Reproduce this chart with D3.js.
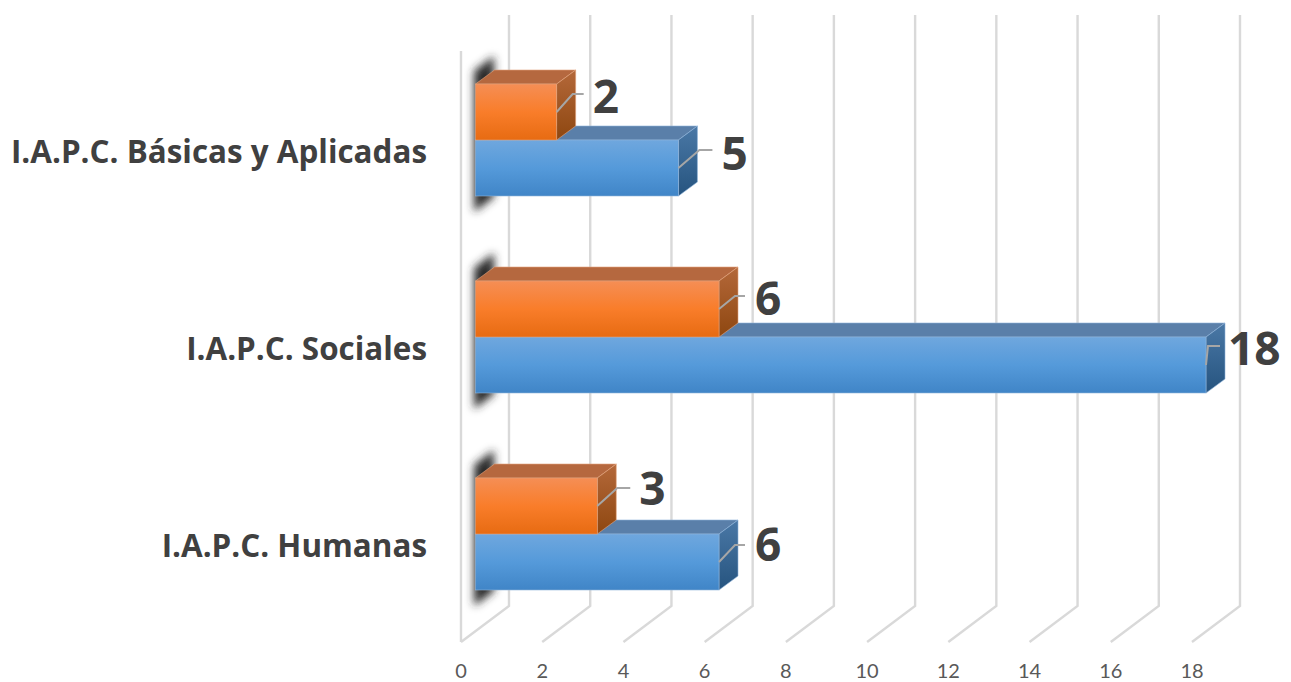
<!DOCTYPE html>
<html><head><meta charset="utf-8">
<style>html,body{margin:0;padding:0;background:#fff;overflow:hidden}svg{display:block}</style>
<script src="https://d3js.org/d3.v7.min.js"></script></head>
<body><svg id="c" width="1291" height="682"></svg>
<script>
const categories = ["I.A.P.C. Básicas y Aplicadas", "I.A.P.C. Sociales", "I.A.P.C. Humanas"];
const seriesNames = ["naranja", "azul"];
const orangeValues = [2, 6, 3];
const blueValues = [5, 18, 6];
const tickValues = [0, 2, 4, 6, 8, 10, 12, 14, 16, 18];

// per-label layout tweaks: [label dx, label dy, elbow dx, elbow dy, stub dx]
const orangeLabelLayout = [[36,-16,16,-18,11],[36,-11,16,-13,10],[42,-18,20,-18,13]];
const blueLabelLayout = [[43,-15,21,-18,13],[22,-17,2,-19,12],[36,-18,16,-17,10]];

const svg = d3.select("#c");
const FONT = "'Open Sans', sans-serif";
const TICK_FONT = "Lato, sans-serif";
const dx = 19, dy = -14;          // bar depth
const wallDx = 48, wallDy = -36;  // floor depth

const xGrid = d3.scaleLinear().domain([0, 18]).range([461, 1192]);
const xBar = d3.scaleLinear().domain([0, 18]).range([475.5, 1206]);
const yCat = d3.scaleBand().domain(categories).range([84, 590]).paddingInner(85 / 197);
const ySer = d3.scaleBand().domain(seriesNames).range([0, yCat.bandwidth()]);

const defs = svg.append("defs");
function grad(id, stops) {
  const g = defs.append("linearGradient").attr("id", id).attr("x1", 0).attr("y1", 0).attr("x2", 0).attr("y2", 1);
  stops.forEach(([o, c]) => g.append("stop").attr("offset", o).attr("stop-color", c));
}
grad("oFront", [[0, "#f58e55"], [0.5, "#f97d2a"], [1, "#e76b12"]]);
grad("bFront", [[0, "#6fa7de"], [0.5, "#559ada"], [1, "#4085c7"]]);
grad("oSide", [[0, "#b4683a"], [1, "#8e4710"]]);
grad("bSide", [[0, "#4a78a6"], [1, "#26547f"]]);
defs.append("filter").attr("id", "blur").attr("x", "-100%").attr("y", "-15%").attr("width", "300%").attr("height", "130%")
  .append("feGaussianBlur").attr("stdDeviation", 4.5);

const floorFront = 642, floorBack = floorFront + wallDy, wallTop = 15;
const grid = svg.append("g").attr("fill", "none").attr("stroke", "#d9d9d9").attr("stroke-width", 2.4);
// left wall
grid.append("line").attr("x1", xGrid(0)).attr("x2", xGrid(0)).attr("y1", 51).attr("y2", floorFront);
tickValues.forEach(t => {
  const xf = xGrid(t), xb = xf + wallDx;
  grid.append("path").attr("d", `M${xb},${wallTop}V${floorBack}L${xf},${floorFront}`);
});

// shadows on the wall
categories.forEach(c => {
  const t = yCat(c), b = t + yCat.bandwidth();
  const x0 = 474, y0 = t - 13, y1 = b + 16;
  svg.append("path")
    .attr("d", `M${x0},${y0}L${x0 + 20},${y0 - 15}L${x0 + 20},${y1 - 15}L${x0},${y1}Z`)
    .attr("fill", "#2a2a2a").attr("filter", "url(#blur)");
});

function drawBars(values, ser, front, side, topColor, edge) {
  const g = svg.append("g");
  values.forEach((v, i) => {
    const x0 = xBar(0), x1 = xBar(v), y0 = yCat(categories[i]) + ySer(ser), y1 = y0 + ySer.bandwidth();
    g.append("path").attr("d", `M${x0},${y0}L${x0 + dx},${y0 + dy}H${x1 + dx}L${x1},${y0}Z`)
      .attr("fill", topColor).attr("stroke", edge).attr("stroke-width", .6);
    g.append("path").attr("d", `M${x1},${y0}L${x1 + dx},${y0 + dy}V${y1 + dy}L${x1},${y1}Z`)
      .attr("fill", `url(#${side})`).attr("stroke", edge).attr("stroke-width", .6);
    g.append("rect").attr("x", x0).attr("y", y0).attr("width", x1 - x0).attr("height", y1 - y0)
      .attr("fill", `url(#${front})`).attr("stroke", edge).attr("stroke-width", .6);
  });
}
drawBars(blueValues, "azul", "bFront", "bSide", "#5a7fa9", "#8fb4da");
drawBars(orangeValues, "naranja", "oFront", "oSide", "#b5683f", "#e2a27c");

function drawLabels(values, ser, layout) {
  values.forEach((v, i) => {
    const [lx, ly, ex, ey, st] = layout[i];
    const x = xBar(v), mid = yCat(categories[i]) + ySer(ser) + ySer.bandwidth() / 2;
    svg.append("path").attr("d", `M${x},${mid}L${x + ex},${mid + ey}h${st}`)
      .attr("fill", "none").attr("stroke", "#a6a6a6").attr("stroke-width", 2);
    svg.append("text").attr("x", x + lx).attr("y", mid + ly).attr("dy", "0.36em")
      .attr("font-family", FONT).attr("font-weight", 700).attr("font-size", 46)
      .attr("fill", "#404040").text(v);
  });
}
drawLabels(blueValues, "azul", blueLabelLayout);
drawLabels(orangeValues, "naranja", orangeLabelLayout);

// category labels
categories.forEach(c => {
  svg.append("text").attr("x", 427).attr("y", yCat(c) + yCat.bandwidth() / 2 + 23)
    .attr("text-anchor", "end").attr("font-family", FONT).attr("font-weight", 700)
    .attr("font-size", 31.4).attr("fill", "#404040").text(c);
});

// value axis labels
tickValues.forEach(t => {
  svg.append("text").attr("x", xGrid(t)).attr("y", 677.5).attr("text-anchor", "middle")
    .attr("font-family", TICK_FONT).attr("font-size", 20).attr("fill", "#595959").text(t);
});
</script></body></html>
